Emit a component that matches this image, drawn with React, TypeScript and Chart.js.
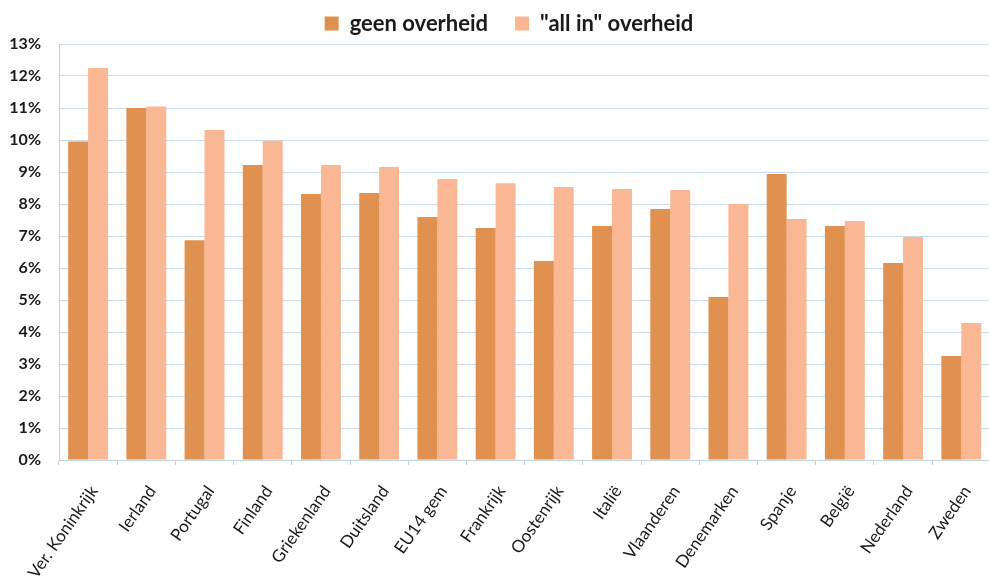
import React, { useEffect, useRef } from "react";
import { Chart, registerables } from "chart.js";

Chart.register(...registerables);

const categories = [
  "Ver. Koninkrijk",
  "Ierland",
  "Portugal",
  "Finland",
  "Griekenland",
  "Duitsland",
  "EU14 gem",
  "Frankrijk",
  "Oostenrijk",
  "Italië",
  "Vlaanderen",
  "Denemarken",
  "Spanje",
  "België",
  "Nederland",
  "Zweden",
];

const geenOverheid = [9.95, 11.0, 6.87, 9.22, 8.31, 8.34, 7.59, 7.25, 6.22, 7.31, 7.84, 5.09, 8.94, 7.31, 6.16, 3.25];
const allInOverheid = [12.25, 11.05, 10.31, 9.98, 9.22, 9.16, 8.78, 8.65, 8.53, 8.47, 8.44, 8.0, 7.53, 7.47, 6.97, 4.28];

const seriesLabels = ["geen overheid", "\"all in\" overheid"];
const yMin = 0;
const yMax = 13;
const yStep = 1;

const W = 995;
const H = 579;

export default function App() {
  const ref = useRef<HTMLCanvasElement>(null);

  useEffect(() => {
    if (!ref.current) return;
    const legendShift = {
      id: "legendShift",
      afterLayout(chart: any) {
        const l = chart.legend;
        if (l) {
          l.left += 11.5;
          l.right += 11.5;
          l.top -= 14.5;
        }
      },
    };
    const chart = new Chart(ref.current, {
      type: "bar",
      data: {
        labels: categories,
        datasets: [
          {
            label: seriesLabels[0],
            data: geenOverheid,
            backgroundColor: "#E0914F",
            borderWidth: 0,
            categoryPercentage: 0.685,
            barPercentage: 1,
          },
          {
            label: seriesLabels[1],
            data: allInOverheid,
            backgroundColor: "#F9B793",
            borderWidth: 0,
            categoryPercentage: 0.685,
            barPercentage: 1,
          },
        ],
      },
      options: {
        responsive: false,
        animation: false,
        layout: { padding: { top: 0, left: 0, right: 0, bottom: 0 } },
        plugins: {
          tooltip: { enabled: false },
          legend: {
            position: "top",
            maxHeight: 44,
            labels: {
              boxWidth: 14,
              boxHeight: 14,
              padding: 27,
              color: "#1a1a1a",
              font: { family: "Lato", size: 22, weight: "bold" },
            },
          },
        },
        scales: {
          x: {
            grid: {
              display: true,
              drawOnChartArea: false,
              drawTicks: true,
              tickLength: 5,
              color: "#BFD3DF",
              offset: true,
            },
            border: { display: true, color: "#BFD3DF", width: 1 },
            ticks: {
              minRotation: 55,
              maxRotation: 55,
              autoSkip: false,
              padding: 17,
              labelOffset: 6,
              color: "#1a1a1a",
              font: { family: "Lato", size: 17 },
            },
            afterFit(scale: any) {
              scale.height = 119;
            },
          },
          y: {
            min: yMin,
            max: yMax,
            grid: { color: "#C8DAE5", drawTicks: false, lineWidth: 1 },
            border: { display: true, color: "#BFD3DF", width: 1 },
            ticks: {
              stepSize: yStep,
              padding: 18,
              color: "#1a1a1a",
              font: { family: "Lato", size: 16, weight: "bold" },
              callback: (v: any) => `${v}%`,
            },
            afterFit(scale: any) {
              scale.width = 59;
            },
          },
        },
      },
      plugins: [legendShift],
    });
    return () => chart.destroy();
  }, []);

  return (
    <div
      style={{
        position: "fixed",
        left: 0,
        top: 0,
        width: 989,
        height: 579,
        overflow: "hidden",
        background: "#ffffff",
      }}
    >
      <canvas ref={ref} width={W} height={H} style={{ display: "block", width: W, height: H }} />
    </div>
  );
}
